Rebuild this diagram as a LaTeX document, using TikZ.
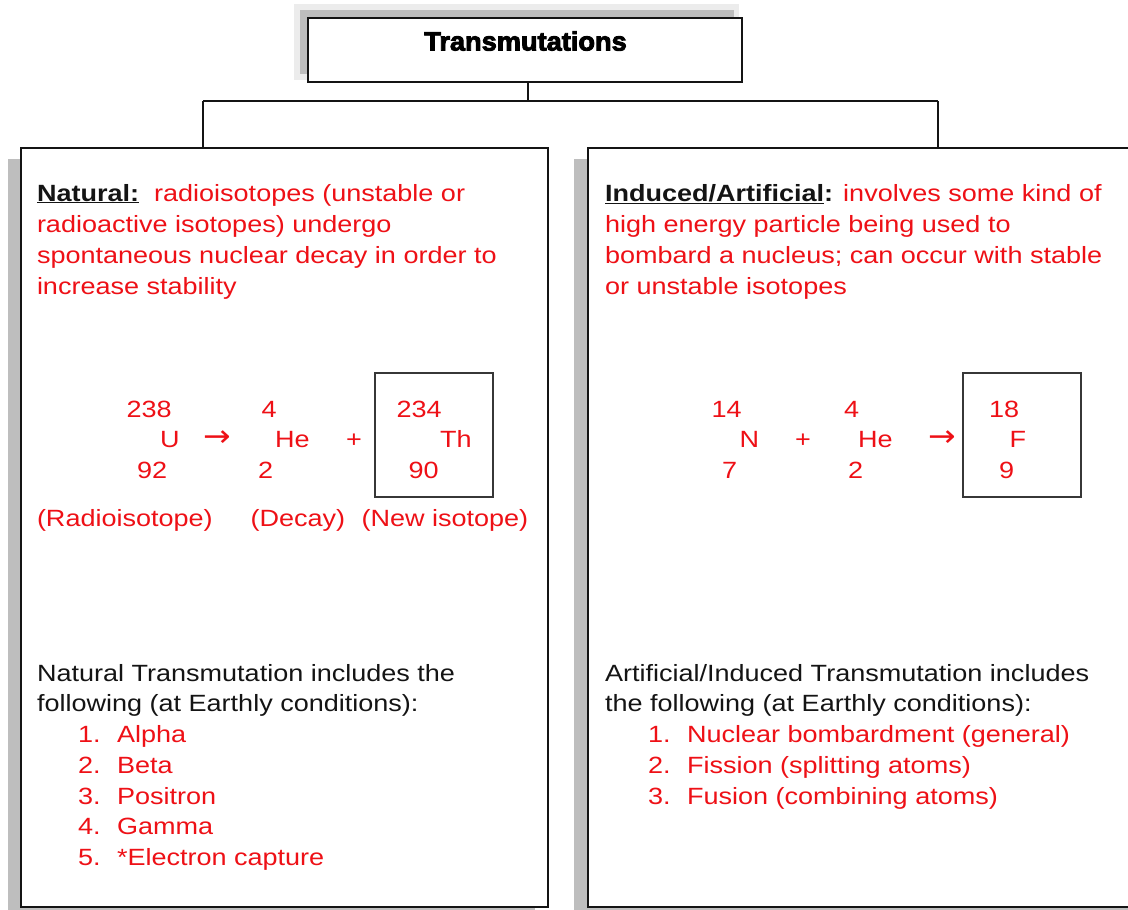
\documentclass[tikz,border=0pt]{standalone}
\usepackage{fontspec}
\setmainfont{Liberation Sans}[FakeStretch=1.15]
\newfontfamily\titlefont{Liberation Sans Bold}[FakeBold=3.5,FakeStretch=1.03]
\newfontfamily\symfont{DejaVu Sans}[FakeStretch=1.1]
\definecolor{tred}{RGB}{238,16,22}
\definecolor{tink}{RGB}{20,20,20}
\definecolor{shade}{RGB}{190,190,190}
\definecolor{halo}{RGB}{236,236,236}
\begin{document}
\begin{tikzpicture}[x=1pt,y=-1pt,
  txt/.style={anchor=base west, inner sep=0pt, outer sep=0pt, font=\fontsize{23.5}{31}\selectfont, text=tink},
  rtxt/.style={txt, text=tred},
  arrowtxt/.style={rtxt, font=\symfont\fontsize{30}{31}\selectfont},
  panel/.style={draw=tink, line width=1.6pt, fill=white, anchor=north west, inner sep=0pt},
  isobox/.style={draw=tink!85, line width=1.6pt, anchor=north west, inner sep=0pt},
  link/.style={draw=tink, line width=1.6pt},
  shadowfill/.style={fill=shade, draw=none}]
\useasboundingbox (0,0) rectangle (1128,910);
\clip (0,0) rectangle (1128,910);
% shadows
\fill[halo] (294,4) rectangle (739,80);
\fill[shadowfill] (300,10) rectangle (734,74);
\fill[shadowfill] (8,159) rectangle (535,920);
\fill[shadowfill] (574,159) rectangle (1140,920);
% boxes
\node[panel, minimum width=434pt, minimum height=64pt] (T) at (307,17) {};
\node[anchor=base, inner sep=0pt, font=\titlefont\fontsize{26.4}{30}\selectfont, text=black] (Tt) at (525.5,50.5) {Transmutations};
\node[panel, minimum width=527pt, minimum height=759pt] (L) at (20,147) {};
\node[panel, minimum width=560pt, minimum height=759pt] (R) at (587,147) {};
% connectors
\coordinate (jt) at (528,101);
\coordinate (jl) at (203,101);
\coordinate (jr) at (938,101);
\draw[link] (jt |- T.south) -- (jt);
\draw[link] (jl) -- (jr);
\draw[link] (jl) -- (jl |- L.north);
\draw[link] (jr) -- (jr |- R.north);
% left panel text
\node[txt] (l1) at (37,201) {\underline{\textbf{Natural:}}\ \ \textcolor{tred}{radioisotopes (unstable or}};
\node[rtxt] (l2) at (37,232) {radioactive isotopes) undergo};
\node[rtxt] (l3) at (37,263) {spontaneous nuclear decay in order to};
\node[rtxt] (l4) at (37,294) {increase stability};
% left equation
\node[rtxt] (u1) at (126.5,417) {238};
\node[rtxt] (u2) at (160,447.5) {U};
\node[rtxt] (u3) at (137,478) {92};
\node[arrowtxt] (ua) at (203,446.5) {→};
\node[rtxt] (h1) at (261.5,417) {4};
\node[rtxt] (h2) at (275,447.5) {He};
\node[rtxt] (h3) at (258,478) {2};
\node[rtxt] (pl) at (346,447.5) {+};
\node[isobox, minimum width=118pt, minimum height=124pt] (bx1) at (374,372) {};
\node[rtxt] (t1) at (396.5,417) {234};
\node[rtxt] (t2) at (440,447.5) {Th};
\node[rtxt] (t3) at (408.5,478) {90};
\node[rtxt] (c1) at (37,526) {(Radioisotope)};
\node[rtxt] (c2) at (250.5,526) {(Decay)};
\node[rtxt] (c3) at (361.5,526) {(New isotope)};
% left lower
\node[txt] (l5) at (37,681) {Natural Transmutation includes the};
\node[txt] (l6) at (37,711.5) {following (at Earthly conditions):};
\node[rtxt] (a1) at (78,742) {1.};
\node[rtxt] (a1t) at (117,742) {Alpha};
\node[rtxt] (a2) at (78,773) {2.};
\node[rtxt] (a2t) at (117,773) {Beta};
\node[rtxt] (a3) at (78,804) {3.};
\node[rtxt] (a3t) at (117,804) {Positron};
\node[rtxt] (a4) at (78,834.5) {4.};
\node[rtxt] (a4t) at (117,834.5) {Gamma};
\node[rtxt] (a5) at (78,865) {5.};
\node[rtxt] (a5t) at (117,865) {*Electron capture};
% right panel text
\node[txt] (r1) at (605,201) {\underline{\textbf{Induced/Artificial}}\textbf{:} \textcolor{tred}{involves some kind of}};
\node[rtxt] (r2) at (605,232) {high energy particle being used to};
\node[rtxt] (r3) at (605,263) {bombard a nucleus; can occur with stable};
\node[rtxt] (r4) at (605,294) {or unstable isotopes};
% right equation
\node[rtxt] (n1) at (711.5,417) {14};
\node[rtxt] (n2) at (739.5,447.5) {N};
\node[rtxt] (n3) at (722,478) {7};
\node[rtxt] (rp) at (795,447.5) {+};
\node[rtxt] (e1) at (844,417) {4};
\node[rtxt] (e2) at (858,447.5) {He};
\node[rtxt] (e3) at (848,478) {2};
\node[arrowtxt] (ra) at (928,446.5) {→};
\node[isobox, minimum width=118pt, minimum height=124pt] (bx2) at (962,372) {};
\node[rtxt] (f1) at (989,417) {18};
\node[rtxt] (f2) at (1009.5,447.5) {F};
\node[rtxt] (f3) at (999,478) {9};
% right lower
\node[txt] (r5) at (605,681) {Artificial/Induced Transmutation includes};
\node[txt] (r6) at (605,711.5) {the following (at Earthly conditions):};
\node[rtxt] (b1) at (648,742) {1.};
\node[rtxt] (b1t) at (687,742) {Nuclear bombardment (general)};
\node[rtxt] (b2) at (648,773) {2.};
\node[rtxt] (b2t) at (687,773) {Fission (splitting atoms)};
\node[rtxt] (b3) at (648,804) {3.};
\node[rtxt] (b3t) at (687,804) {Fusion (combining atoms)};
\end{tikzpicture}
\end{document}
